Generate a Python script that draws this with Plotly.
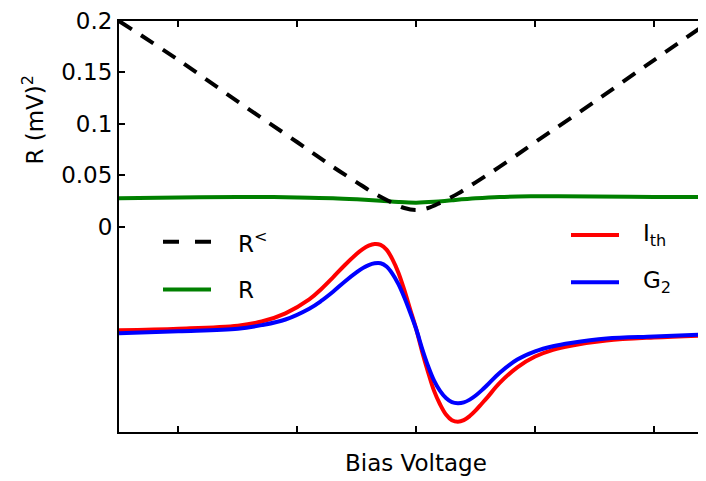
import plotly.graph_objects as go

# ---- data ----
x_r_less = [-2.5, -2.0, -1.5, -1.0, -0.7, -0.5, -0.35, -0.2, -0.1, 0.0, 0.1, 0.2, 0.35, 0.5, 0.7, 1.0, 1.5, 2.0, 2.437]
r_less = [0.200, 0.162, 0.1215, 0.082, 0.058, 0.043, 0.032, 0.023, 0.018, 0.016, 0.018, 0.023, 0.032, 0.043, 0.058, 0.082, 0.1215, 0.162, 0.197]

x_r = [-2.5, -2.0, -1.5, -1.2, -1.0, -0.7, -0.5, -0.3, -0.15, 0.0, 0.15, 0.3, 0.5, 0.7, 1.0, 1.2, 1.5, 2.0, 2.437]
r_vals = [0.0276, 0.0282, 0.0286, 0.0286, 0.0283, 0.0275, 0.0264, 0.0250, 0.0238, 0.0232, 0.0240, 0.0256, 0.0275, 0.0288, 0.0294, 0.0295, 0.0292, 0.0288, 0.0286]

x_sig = [-2.5, -2.0, -1.5, -1.3, -1.1, -0.9, -0.8, -0.7, -0.6, -0.5, -0.45, -0.4, -0.35, -0.3, -0.25, -0.2, -0.15, -0.1, -0.05, 0.0,
         0.05, 0.1, 0.15, 0.2, 0.25, 0.3, 0.35, 0.4, 0.45, 0.5, 0.55, 0.6, 0.7, 0.85, 1.0, 1.15, 1.3, 1.6, 2.0, 2.437]
i_th = [-0.101, -0.0995, -0.0965, -0.0925, -0.0845, -0.071, -0.061, -0.0495, -0.0375, -0.0265, -0.022, -0.0187, -0.017, -0.0178, -0.0225, -0.032, -0.045, -0.062, -0.081, -0.100,
        -0.122, -0.142, -0.160, -0.173, -0.183, -0.1885, -0.190, -0.1885, -0.1845, -0.179, -0.1725, -0.166, -0.1525, -0.137, -0.1265, -0.120, -0.116, -0.111, -0.108, -0.106]
g_2 = [-0.104, -0.102, -0.0995, -0.096, -0.0905, -0.080, -0.0725, -0.0635, -0.0535, -0.0445, -0.0405, -0.0375, -0.0358, -0.0358, -0.039, -0.046, -0.056, -0.069, -0.084, -0.100,
       -0.119, -0.136, -0.150, -0.160, -0.167, -0.171, -0.172, -0.1712, -0.1685, -0.1645, -0.1595, -0.154, -0.1425, -0.1295, -0.1215, -0.1165, -0.1133, -0.109, -0.107, -0.105]

y_tick_vals = [0, 0.05, 0.1, 0.15, 0.2]
y_tick_text = ["0", "0.05", "0.1", "0.15", "0.2"]
x_tick_vals = [-2, -1, 0, 1, 2]

legend_left = [("R<sup>&lt;</sup>", "black", "dash"), ("R", "#008000", "solid")]
legend_right = [("I<sub>th</sub>", "#ff0000", "solid"), ("G<sub>2</sub>", "#0000ff", "solid")]

FONT = "DejaVu Sans, Liberation Sans, Arial, sans-serif"
FS = 23
# page is offset by the 8px body margin; figure sized to fit the 706x481 window
OFF = 8
W, H = 706 - OFF, 481 - OFF
# plot area in page pixels: x 119..706, y 15..432
PL, PR, PT, PB = 119, 706, 15, 432
L, T = PL - OFF, PT - OFF
R_ = 0
B = H - (PB - OFF)
LW = 4

fig = go.Figure()
fig.add_trace(go.Scatter(x=x_r, y=r_vals, mode="lines", line=dict(color="#008000", width=LW, shape="spline"), name="R"))
fig.add_trace(go.Scatter(x=x_r_less, y=r_less, mode="lines", line=dict(color="black", width=LW, dash="15px,11px", shape="spline"), name="R<"))
fig.add_trace(go.Scatter(x=x_sig, y=i_th, mode="lines", line=dict(color="#ff0000", width=LW, shape="spline"), name="Ith"))
fig.add_trace(go.Scatter(x=x_sig, y=g_2, mode="lines", line=dict(color="#0000ff", width=LW, shape="spline"), name="G2"))

def px_x(px):
    return (px - PL) / (PR - PL)

def px_y(py):
    return (PB - py) / (PB - PT)

shapes = []
annotations = []
for (items, x0, x1, xt, ys) in [(legend_left, 163, 211, 236, [239, 287.5]),
                                (legend_right, 571, 619, 641, [232, 280])]:
    for (label, color, dash), yy in zip(items, ys):
        shapes.append(dict(type="line", xref="paper", yref="paper",
                           x0=px_x(x0), x1=px_x(x1), y0=px_y(yy), y1=px_y(yy),
                           line=dict(color=color, width=LW, dash="16px,16px" if dash == "dash" else "solid")))
        annotations.append(dict(xref="paper", yref="paper", x=px_x(xt), y=px_y(yy), text=label,
                                showarrow=False, xanchor="left", yanchor="middle",
                                font=dict(family=FONT, size=FS, color="black")))

annotations.append(dict(xref="paper", yref="paper", x=px_x(33), y=px_y(115), text="R (mV)<sup>2</sup>",
                        textangle=-90, showarrow=False, xanchor="center", yanchor="middle",
                        font=dict(family=FONT, size=FS, color="black")))
annotations.append(dict(xref="x", yref="paper", x=0, y=px_y(463), text="Bias Voltage",
                        showarrow=False, xanchor="center", yanchor="middle",
                        font=dict(family=FONT, size=FS, color="black")))

fig.update_layout(
    width=W, height=H,
    margin=dict(l=L, r=R_, t=T, b=B, pad=0),
    paper_bgcolor="white", plot_bgcolor="white",
    showlegend=False,
    shapes=shapes, annotations=annotations,
    font=dict(family=FONT, size=FS, color="black"),
)
fig.update_xaxes(range=[-2.5, 2.437], showgrid=False, zeroline=False, showline=True, linecolor="black", linewidth=2,
                 mirror="ticks", ticks="inside", ticklen=6, tickwidth=1.5, tickcolor="black",
                 tickvals=x_tick_vals, showticklabels=False)
fig.update_yaxes(range=[-0.2, 0.2], showgrid=False, zeroline=False, showline=True, linecolor="black", linewidth=2,
                 ticks="inside", ticklen=6, tickwidth=1.5, tickcolor="black", ticklabeloverflow="allow",
                 tickvals=y_tick_vals, ticktext=y_tick_text, tickfont=dict(family=FONT, size=FS))

fig.write_html("out.html")
